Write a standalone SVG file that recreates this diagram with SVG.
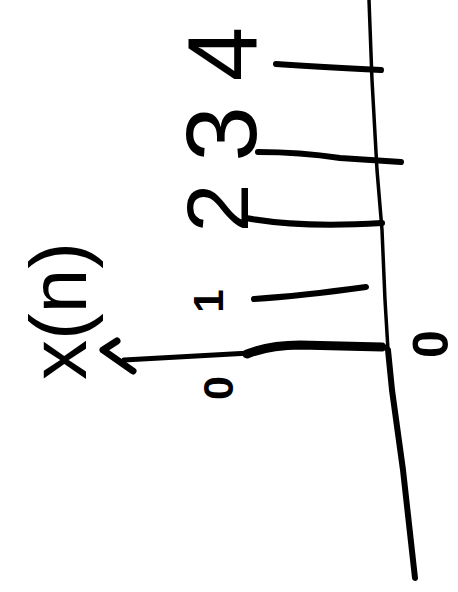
<svg xmlns="http://www.w3.org/2000/svg" width="458" height="592" viewBox="0 0 458 592">
<style>
.ink{fill:none;stroke:#000;stroke-linecap:round;stroke-linejoin:round}
.lbl{font-family:"Liberation Sans",Arial,sans-serif;fill:#000;text-anchor:middle}
.big{font-weight:normal}
.small{font-weight:bold}
</style>
<rect width="458" height="592" fill="#fff"/>
<g id="connectors">
  <path id="axis-top" class="ink" stroke-width="3.5" d="M369,0 L372,80 L377,170 L382,230 L385,300 L388,350"/>
  <path id="axis-bottom" class="ink" stroke-width="6" d="M388,350 L392,390 L403,470 L415,578"/>
  <path id="stem4" class="ink" stroke-width="6" d="M276,64 Q320,67 381,70"/>
  <path id="stem3" class="ink" stroke-width="6" d="M258,152 Q300,152 340,158 L401,162"/>
  <path id="stem2" class="ink" stroke-width="6" d="M246,218 Q300,228 382,223"/>
  <path id="stem1" class="ink" stroke-width="6" d="M254,299 Q300,296 366,287"/>
  <path id="stem0a" class="ink" stroke-width="5" d="M124,360 L250,353"/>
  <path id="stem0b" class="ink" stroke-width="9" d="M247,354 Q270,345 300,345 L382,347"/>
  <path id="arrowhead" class="ink" stroke-width="7" d="M117,341 L103,350 L133,371"/>
</g>
<g id="label-4"><text class="lbl big" font-size="98" transform="translate(256,54) rotate(-90)">4</text></g>
<g id="label-3"><text class="lbl big" font-size="100" transform="translate(256,134) rotate(-90)">3</text></g>
<g id="label-2"><text class="lbl big" font-size="88" transform="translate(248,208) rotate(-90)">2</text></g>
<g id="label-1"><text class="lbl small" font-size="42" transform="translate(223,301) rotate(-90)">1</text></g>
<g id="label-0-bottom"><text class="lbl small" font-size="43" transform="translate(233,388) rotate(-90)">0</text></g>
<g id="label-0-right"><text class="lbl small" font-size="50" transform="translate(448,344) rotate(-90)">0</text></g>
<g id="label-xn"><text class="lbl big" font-size="80" transform="translate(86,311) rotate(-90)">x(n)</text></g>
</svg>
